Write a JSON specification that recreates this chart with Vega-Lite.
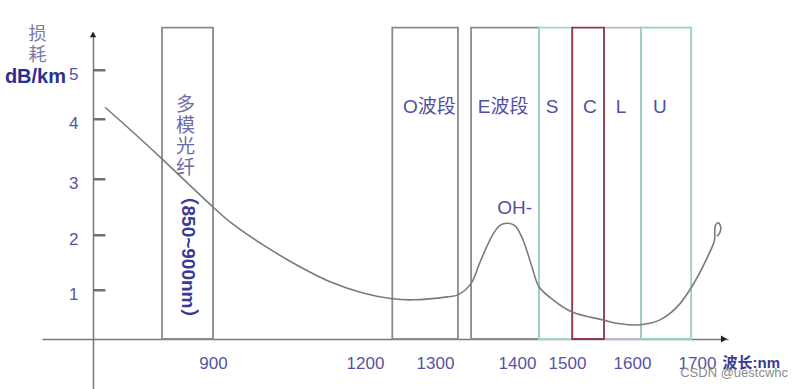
{
  "$schema": "https://vega.github.io/schema/vega-lite/v6.json",
  "width": 804,
  "height": 389,
  "autosize": {"type": "none"},
  "padding": 0,
  "background": "white",
  "config": {"view": {"stroke": null}},
  "datasets": {
    "bands": [
      {"band": "mm", "start": 850, "end": 900},
      {"band": "O", "start": 1239, "end": 1328},
      {"band": "E", "start": 1344, "end": 1444},
      {"band": "L", "start": 1557, "end": 1614},
      {"band": "S", "start": 1444, "end": 1508},
      {"band": "U", "start": 1614, "end": 1691},
      {"band": "C", "start": 1508, "end": 1557}
    ],
    "curve": [
      {"i": 1, "wl": 793, "loss": 4.24},
      {"i": 2, "wl": 823, "loss": 3.75},
      {"i": 3, "wl": 851, "loss": 3.32},
      {"i": 4, "wl": 900, "loss": 2.5},
      {"i": 5, "wl": 934, "loss": 2.23},
      {"i": 6, "wl": 999, "loss": 1.82},
      {"i": 7, "wl": 1066, "loss": 1.45},
      {"i": 8, "wl": 1131, "loss": 1.15},
      {"i": 9, "wl": 1196, "loss": 0.94},
      {"i": 10, "wl": 1239, "loss": 0.82},
      {"i": 11, "wl": 1269, "loss": 0.8},
      {"i": 12, "wl": 1315, "loss": 0.86},
      {"i": 13, "wl": 1328, "loss": 0.9},
      {"i": 14, "wl": 1344, "loss": 1.12},
      {"i": 15, "wl": 1355, "loss": 1.51},
      {"i": 16, "wl": 1371, "loss": 2.02},
      {"i": 17, "wl": 1380, "loss": 2.18},
      {"i": 18, "wl": 1389, "loss": 2.21},
      {"i": 19, "wl": 1398, "loss": 2.16},
      {"i": 20, "wl": 1412, "loss": 1.91},
      {"i": 21, "wl": 1430, "loss": 1.42},
      {"i": 22, "wl": 1444, "loss": 1.06},
      {"i": 23, "wl": 1472, "loss": 0.8},
      {"i": 24, "wl": 1508, "loss": 0.55},
      {"i": 25, "wl": 1555, "loss": 0.39},
      {"i": 26, "wl": 1582, "loss": 0.31},
      {"i": 27, "wl": 1612, "loss": 0.29},
      {"i": 28, "wl": 1643, "loss": 0.39},
      {"i": 29, "wl": 1669, "loss": 0.65},
      {"i": 30, "wl": 1692, "loss": 1.06},
      {"i": 31, "wl": 1715.5, "loss": 1.58},
      {"i": 32, "wl": 1727, "loss": 1.9},
      {"i": 33, "wl": 1727.5, "loss": 2.04},
      {"i": 34, "wl": 1728.2, "loss": 2.16},
      {"i": 35, "wl": 1732.5, "loss": 2.22},
      {"i": 36, "wl": 1736.4, "loss": 2.16},
      {"i": 37, "wl": 1735.6, "loss": 2.05},
      {"i": 38, "wl": 1731, "loss": 1.98}
    ],
    "labels": [
      {"text": "O波段", "wl": 1292, "loss": 4.24},
      {"text": "E波段", "wl": 1383, "loss": 4.24},
      {"text": "S", "wl": 1470, "loss": 4.24},
      {"text": "C", "wl": 1535, "loss": 4.24},
      {"text": "L", "wl": 1583, "loss": 4.24},
      {"text": "U", "wl": 1643, "loss": 4.24},
      {"text": "OH-", "wl": 1397, "loss": 2.48}
    ],
    "yticks": [
      {"loss": 1, "from": 781, "to": 793},
      {"loss": 2, "from": 781, "to": 793},
      {"loss": 3, "from": 781, "to": 793},
      {"loss": 4, "from": 781, "to": 793},
      {"loss": 5, "from": 781, "to": 793}
    ],
    "mm": [{"text": "多\n模\n光\n纤", "wl": 873, "loss": 4.29}],
    "mmrange": [{"text": "（850~900nm）", "wl": 875.5, "loss": 1.6}],
    "unit": [{"text": "dB/km", "wl": 754, "loss": 4.86}],
    "arrowx": [{"wl": 1741.8, "loss": 0}],
    "arrowy": [{"wl": 781, "loss": 5.73}],
    "mark": [{"text": "CSDN @uestcwhc", "wl": 1841, "loss": -0.69}]
  },
  "layer": [
    {
      "data": {"name": "bands"},
      "mark": {"type": "rect", "filled": false, "strokeWidth": 1.8},
      "encoding": {
        "x": {"field": "start", "type": "quantitative",
          "scale": {"domain": [730, 850, 900, 1200, 1300, 1400, 1500, 1600, 1700, 1748], "range": [42, 162, 213, 365, 435, 517, 567, 632, 697, 728], "nice": false, "zero": false},
          "axis": {"orient": "bottom", "offset": -50, "values": [900, 1200, 1300, 1400, 1500, 1600, 1700], "format": "d", "ticks": false, "grid": false,
            "domainColor": "#777777", "domainWidth": 1.5, "labelPadding": 16, "labelFontSize": 17, "labelColor": "#5555a0", "labelFont": "Liberation Sans",
            "labelFlush": false, "labelOverlap": false, "labelBound": false,
            "title": "波长:nm", "titleX": 722, "titleY": 23, "titleAlign": "left", "titleBaseline": "middle", "titleFontSize": 15, "titleFontWeight": "bold", "titleColor": "#3a3a90", "titleFont": "Liberation Sans, Noto Sans CJK SC"}},
        "x2": {"field": "end"},
        "y": {"datum": 0, "type": "quantitative",
          "scale": {"domain": [-1.02, 0, 1, 2, 3, 4, 5, 5.78], "range": [389, 339, 290, 235, 179, 119, 70, 32], "nice": false, "zero": false},
          "axis": {"orient": "right", "offset": -711, "values": [1, 2, 3, 4, 5], "format": "d", "grid": false, "ticks": true, "tickSize": 12, "tickColor": "#707070", "tickWidth": 2, "tickOpacity": 1,
            "domainColor": "#777777", "domainWidth": 1.5, "labelPadding": -27, "labelAlign": "right", "labelFontSize": 17, "labelColor": "#5555a0", "labelFont": "Liberation Sans", "labelOffset": 4,
            "labelFlush": false, "labelOverlap": false, "labelBound": false,
            "title": ["损", "耗"], "titleAngle": 0, "titleX": -56, "titleY": 34, "titleBaseline": "middle", "titleAlign": "center", "titleFontSize": 18, "titleFontWeight": "normal", "titleColor": "#7a7aa5", "titleFont": "Noto Sans CJK SC", "titleLineHeight": 21}},
        "y2": {"datum": 5.87},
        "stroke": {"field": "band", "type": "nominal", "legend": null,
          "scale": {"domain": ["mm", "O", "E", "S", "C", "L", "U"], "range": ["#8a8a8a", "#8a8a8a", "#8a8a8a", "#9fd6c8", "#8e3b47", "#bdb5cc", "#93d2c4"]}}
      }
    },
    {
      "data": {"name": "yticks"},
      "mark": {"type": "point", "shape": "M0,0H2", "filled": false, "color": "#707070", "strokeWidth": 2, "size": 144, "opacity": 1},
      "encoding": {
        "x": {"field": "from", "type": "quantitative", "scale": {"domain": [730, 850, 900, 1200, 1300, 1400, 1500, 1600, 1700, 1748], "range": [42, 162, 213, 365, 435, 517, 567, 632, 697, 728], "nice": false, "zero": false}},
        "y": {"field": "loss", "type": "quantitative", "scale": {"domain": [-1.02, 0, 1, 2, 3, 4, 5, 5.78], "range": [389, 339, 290, 235, 179, 119, 70, 32], "nice": false, "zero": false}}
      }
    },
    {
      "data": {"name": "curve"},
      "mark": {"type": "line", "interpolate": "catmull-rom", "color": "#7a7a7a", "strokeWidth": 1.6},
      "encoding": {
        "x": {"field": "wl", "type": "quantitative", "scale": {"domain": [730, 850, 900, 1200, 1300, 1400, 1500, 1600, 1700, 1748], "range": [42, 162, 213, 365, 435, 517, 567, 632, 697, 728], "nice": false, "zero": false}},
        "y": {"field": "loss", "type": "quantitative", "scale": {"domain": [-1.02, 0, 1, 2, 3, 4, 5, 5.78], "range": [389, 339, 290, 235, 179, 119, 70, 32], "nice": false, "zero": false}},
        "order": {"field": "i", "type": "quantitative"}
      }
    },
    {
      "data": {"name": "labels"},
      "mark": {"type": "text", "fontSize": 19, "color": "#5050a0", "font": "Liberation Sans, Noto Sans CJK SC", "align": "center", "baseline": "middle"},
      "encoding": {
        "x": {"field": "wl", "type": "quantitative", "scale": {"domain": [730, 850, 900, 1200, 1300, 1400, 1500, 1600, 1700, 1748], "range": [42, 162, 213, 365, 435, 517, 567, 632, 697, 728], "nice": false, "zero": false}},
        "y": {"field": "loss", "type": "quantitative", "scale": {"domain": [-1.02, 0, 1, 2, 3, 4, 5, 5.78], "range": [389, 339, 290, 235, 179, 119, 70, 32], "nice": false, "zero": false}},
        "text": {"field": "text"}
      }
    },
    {
      "data": {"name": "mm"},
      "mark": {"type": "text", "fontSize": 19, "color": "#6a6aa8", "font": "Noto Sans CJK SC", "align": "center", "baseline": "middle", "lineBreak": "\n", "lineHeight": 21},
      "encoding": {
        "x": {"field": "wl", "type": "quantitative", "scale": {"domain": [730, 850, 900, 1200, 1300, 1400, 1500, 1600, 1700, 1748], "range": [42, 162, 213, 365, 435, 517, 567, 632, 697, 728], "nice": false, "zero": false}},
        "y": {"field": "loss", "type": "quantitative", "scale": {"domain": [-1.02, 0, 1, 2, 3, 4, 5, 5.78], "range": [389, 339, 290, 235, 179, 119, 70, 32], "nice": false, "zero": false}},
        "text": {"field": "text"}
      }
    },
    {
      "data": {"name": "mmrange"},
      "mark": {"type": "text", "fontSize": 19, "fontWeight": "bold", "color": "#3a3a95", "font": "Liberation Sans, Noto Sans CJK SC", "align": "center", "baseline": "middle", "angle": 90},
      "encoding": {
        "x": {"field": "wl", "type": "quantitative", "scale": {"domain": [730, 850, 900, 1200, 1300, 1400, 1500, 1600, 1700, 1748], "range": [42, 162, 213, 365, 435, 517, 567, 632, 697, 728], "nice": false, "zero": false}},
        "y": {"field": "loss", "type": "quantitative", "scale": {"domain": [-1.02, 0, 1, 2, 3, 4, 5, 5.78], "range": [389, 339, 290, 235, 179, 119, 70, 32], "nice": false, "zero": false}},
        "text": {"field": "text"}
      }
    },
    {
      "data": {"name": "unit"},
      "mark": {"type": "text", "fontSize": 20, "fontWeight": "bold", "color": "#2e2e8e", "font": "Liberation Sans", "align": "right", "baseline": "middle"},
      "encoding": {
        "x": {"field": "wl", "type": "quantitative", "scale": {"domain": [730, 850, 900, 1200, 1300, 1400, 1500, 1600, 1700, 1748], "range": [42, 162, 213, 365, 435, 517, 567, 632, 697, 728], "nice": false, "zero": false}},
        "y": {"field": "loss", "type": "quantitative", "scale": {"domain": [-1.02, 0, 1, 2, 3, 4, 5, 5.78], "range": [389, 339, 290, 235, 179, 119, 70, 32], "nice": false, "zero": false}},
        "text": {"field": "text"}
      }
    },
    {
      "data": {"name": "arrowx"},
      "mark": {"type": "point", "shape": "triangle-right", "filled": true, "color": "#222222", "size": 50, "opacity": 1},
      "encoding": {
        "x": {"field": "wl", "type": "quantitative", "scale": {"domain": [730, 850, 900, 1200, 1300, 1400, 1500, 1600, 1700, 1748], "range": [42, 162, 213, 365, 435, 517, 567, 632, 697, 728], "nice": false, "zero": false}},
        "y": {"field": "loss", "type": "quantitative", "scale": {"domain": [-1.02, 0, 1, 2, 3, 4, 5, 5.78], "range": [389, 339, 290, 235, 179, 119, 70, 32], "nice": false, "zero": false}}
      }
    },
    {
      "data": {"name": "arrowy"},
      "mark": {"type": "point", "shape": "triangle-up", "filled": true, "color": "#222222", "size": 40, "opacity": 1},
      "encoding": {
        "x": {"field": "wl", "type": "quantitative", "scale": {"domain": [730, 850, 900, 1200, 1300, 1400, 1500, 1600, 1700, 1748], "range": [42, 162, 213, 365, 435, 517, 567, 632, 697, 728], "nice": false, "zero": false}},
        "y": {"field": "loss", "type": "quantitative", "scale": {"domain": [-1.02, 0, 1, 2, 3, 4, 5, 5.78], "range": [389, 339, 290, 235, 179, 119, 70, 32], "nice": false, "zero": false}}
      }
    },
    {
      "data": {"name": "mark"},
      "mark": {"type": "text", "fontSize": 13, "color": "#8a8a8a", "font": "Liberation Sans", "align": "right", "baseline": "middle"},
      "encoding": {
        "x": {"field": "wl", "type": "quantitative", "scale": {"domain": [730, 850, 900, 1200, 1300, 1400, 1500, 1600, 1700, 1748], "range": [42, 162, 213, 365, 435, 517, 567, 632, 697, 728], "nice": false, "zero": false}},
        "y": {"field": "loss", "type": "quantitative", "scale": {"domain": [-1.02, 0, 1, 2, 3, 4, 5, 5.78], "range": [389, 339, 290, 235, 179, 119, 70, 32], "nice": false, "zero": false}},
        "text": {"field": "text"}
      }
    }
  ]
}
